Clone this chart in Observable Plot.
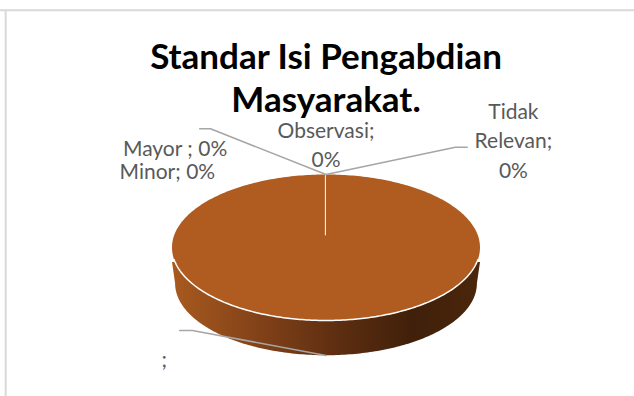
<!DOCTYPE html>
<html><head><meta charset="utf-8">
<script src="https://cdn.jsdelivr.net/npm/d3@7"></script>
<script src="https://cdn.jsdelivr.net/npm/@observablehq/plot@0.6"></script>
<style>html,body{margin:0;padding:0;background:#fff}svg{display:block}</style>
</head><body><div id="c"></div>
<script>
const categories = ["", "Observasi", "Tidak Relevan", "Mayor", "Minor"];
const shares = [100, 0, 0, 0, 0];
const titleLines = ["Standar Isi Pengabdian", "Masyarakat."];
const sliceColor = "#b05c20";
// Positions in pie units: the pie's top face spans -1..1 on both axes
const labelX = [-0.98, -1.03, 0.0, 0.0, 1.217, 1.217, 1.217];
const labelY = [1.345, 1.025, 1.59, 1.2, 1.85, 1.45, 1.05];
const labelText = ["Mayor ; 0%", "Minor; 0%", "Observasi;", "0%", "Tidak", "Relevan;", "0%"];
const leaderMayor = [[0, 1], [-0.75, 1.626], [-0.82, 1.626]];
const leaderTidak = [[0, 1], [0.84, 1.374], [0.917, 1.374]];
const leaderBlank = [[0, -1.48], [-0.867, -1.137], [-0.95, -1.137]];

function ellipse(cy, rx, ry, a0, a1, n = 180) {
  return d3.range(n + 1).map(i => {
    const a = a0 + (a1 - a0) * i / n;
    return [rx * Math.cos(a), cy + ry * Math.sin(a)];
  });
}
const face = ellipse(0, 1, 1, 0, 2 * Math.PI, 360);
const rim = ellipse(0, 1, 1, Math.PI + 0.17, 2 * Math.PI - 0.17, 180);
const wall = [[1, -0.2], ...ellipse(-0.49, 0.98, 0.986, 2 * Math.PI, Math.PI), [-1, -0.2]];

const marks = [
  Plot.ruleY([3.25], {stroke: "#d9d9d9", strokeWidth: 2}),
  Plot.ruleX([-2.08], {y1: 3.25, y2: -2.05, stroke: "#d9d9d9", strokeWidth: 2}),
  () => {
    const s = d3.create("svg:defs");
    const g = s.append("linearGradient").attr("id", "wallGrad");
    [[0, "#a85a1f"], [0.3, "#7f4018"], [0.55, "#5c2d10"], [0.78, "#40200a"], [1, "#4a260b"]].forEach(([o, c]) =>
      g.append("stop").attr("offset", o).attr("stop-color", c));
    return s.node();
  },
  Plot.line(wall, {x: d => d[0], y: d => d[1], fill: "url(#wallGrad)", stroke: "none"}),
  Plot.line(face, {x: d => d[0], y: d => d[1], fill: sliceColor, stroke: "none"}),
  Plot.line(rim, {x: d => d[0], y: d => d[1], stroke: "#fff", strokeWidth: 1.5}),
  Plot.ruleX(shares.filter(v => v === 100), {x: () => -0.004, y1: 0.16, y2: 1, stroke: "#fff", strokeWidth: 1}),
  ...[leaderMayor, leaderTidak, leaderBlank].map(l =>
    Plot.line(l, {x: d => d[0], y: d => d[1], stroke: "#a6a6a6", strokeWidth: 1.6})),
  Plot.text(labelText, {x: (d, i) => labelX[i], y: (d, i) => labelY[i], text: d => d, fontSize: 21, fill: "#595959", fontFamily: "Lato"}),
  Plot.text([";"], {x: -1.05, y: -1.54, text: d => d, fontSize: 21, fill: "#595959", fontFamily: "Lato"}),
  Plot.text(titleLines, {x: 0, y: (d, i) => [2.6, 2.01][i], text: d => d, fontSize: 35, fontWeight: 700, fill: "#000", fontFamily: "Lato"})
];
const chart = Plot.plot({
  width: 634, height: 396, margin: 0,
  x: {domain: [-1, 1], range: [171.5, 479.5], axis: null},
  y: {domain: [1, -1], range: [174, 320], axis: null},
  marks
});
document.getElementById("c").append(chart);
</script></body></html>
